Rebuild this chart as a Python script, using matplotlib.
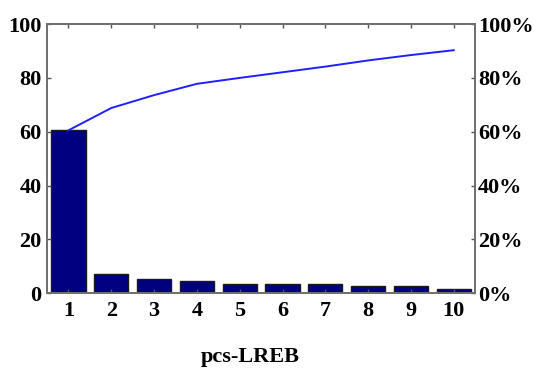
import numpy as np
import matplotlib.pyplot as plt

plt.rcParams['font.family'] = ['Liberation Serif', 'DejaVu Serif']
plt.rcParams['font.weight'] = 'bold'

# component index, variance share of each component and cumulative share
components = [1, 2, 3, 4, 5, 6, 7, 8, 9, 10]
share = [60.5, 6.95, 5.1, 4.6, 3.2, 3.2, 3.2, 2.5, 2.5, 1.7]
cumulative = [60.5, 68.8, 73.6, 77.8, 80.0, 82.1, 84.2, 86.5, 88.5, 90.3]
left_ticks = [0, 20, 40, 60, 80, 100]
right_labels = ['0%', '20%', '40%', '60%', '80%', '100%']

fig = plt.figure(figsize=(5.4, 3.71), dpi=100)
ax = fig.add_axes([0.087, 0.21, 0.793, 0.725])

ax.bar(components, share, width=0.8, color='#000080', edgecolor='#1a1a1a', linewidth=1.0)
ax.set_xlim(0.5, 10.5)
ax.set_ylim(0, 100)
ax.set_xticks(components)
ax.set_xticklabels([str(c) for c in components])
ax.set_yticks(left_ticks)
ax.tick_params(direction='in', length=3, width=1, color='#555555', labelsize=16,
               top=True, pad=4)
ax.tick_params(axis='x', pad=6)
for s in ax.spines.values():
    s.set_color('#707070')
    s.set_linewidth(1.3)

ax2 = ax.twinx()
ax2.plot(components, cumulative, color='#2020ff', linewidth=1.4)
ax2.set_ylim(0, 100)
ax2.set_yticks(left_ticks)
ax2.set_yticklabels(right_labels)
ax2.tick_params(direction='in', length=3, width=1, color='#555555', labelsize=16, pad=2)
for s in ax2.spines.values():
    s.set_color('#707070')
    s.set_linewidth(1.3)

fig.text(0.463, 0.038, 'pcs-LREB', ha='center', va='center', fontsize=16, fontweight='bold')

fig.savefig('out.png', dpi=100)
